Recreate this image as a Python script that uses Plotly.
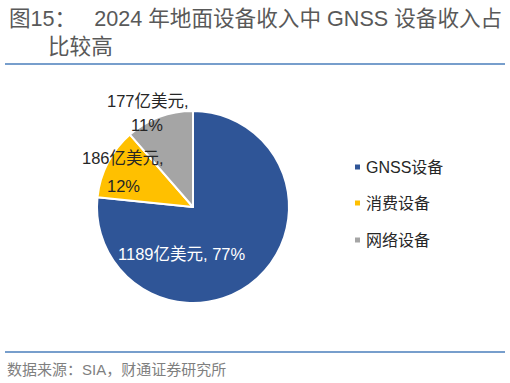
import plotly.graph_objects as go

# ---- data ----
categories = ["GNSS设备", "消费设备", "网络设备"]
values = [1189, 186, 177]
unit = "亿美元"
colors = ["#2F5597", "#FFC000", "#A5A5A5"]
title_line1 = "图15：\u00a0\u00a0\u00a02024 年地面设备收入中 GNSS 设备收入占"
title_line2 = "比较高"
source_text = "数据来源：SIA，财通证券研究所"

W, H = 510, 383
FONT = "Liberation Sans, Arial, Noto Sans CJK SC, sans-serif"


def px(x):
    return x / W


def py(y):
    return 1 - y / H


cx, cy, r = 193, 207, 96

fig = go.Figure()
fig.add_trace(go.Pie(
    labels=categories,
    values=values,
    sort=False,
    direction="clockwise",
    rotation=0,
    marker=dict(colors=colors, line=dict(color="white", width=2)),
    textinfo="none",
    hoverinfo="label+value+percent",
    showlegend=False,
    domain=dict(x=[px(cx - r), px(cx + r)], y=[py(cy + r), py(cy - r)]),
))

total = sum(values)
pcts = [round(v / total * 100) for v in values]

annotations = []
shapes = []

# pie labels (text from data)
label_lines = [
    (0, [(f"{values[0]}{unit}, {pcts[0]}%", 182, 254)], "white"),
    (1, [(f"{values[1]}{unit},", 123, 158), (f"{pcts[1]}%", 123, 186)], "#262626"),
    (2, [(f"{values[2]}{unit},", 148, 101), (f"{pcts[2]}%", 147, 125)], "#262626"),
]
for idx, lines, col in label_lines:
    for t, x, y in lines:
        annotations.append(dict(
            text=t, x=px(x), y=py(y), xref="paper", yref="paper",
            xanchor="center", yanchor="middle", showarrow=False,
            font=dict(family=FONT, size=16.5, color=col),
        ))

# legend (squares + text)
leg_y = [167, 203, 240]
for cat, col, y in zip(categories, colors, leg_y):
    shapes.append(dict(
        type="rect", xref="paper", yref="paper",
        x0=px(355), x1=px(360), y0=py(y + 2.5), y1=py(y - 2.5),
        fillcolor=col, line=dict(width=0),
    ))
    annotations.append(dict(
        text=cat, x=px(364), y=py(y), xref="paper", yref="paper",
        xanchor="left", yanchor="middle", showarrow=False,
        font=dict(family=FONT, size=16, color="#262626"),
    ))

# title
annotations.append(dict(
    text=title_line1, x=px(7), y=py(18), xref="paper", yref="paper",
    xanchor="left", yanchor="middle", showarrow=False,
    font=dict(family=FONT, size=21.6, color="#595959"),
))
annotations.append(dict(
    text=title_line2, x=px(46), y=py(46), xref="paper", yref="paper",
    xanchor="left", yanchor="middle", showarrow=False,
    font=dict(family=FONT, size=21.6, color="#595959"),
))
# source
annotations.append(dict(
    text=source_text, x=px(5), y=py(369), xref="paper", yref="paper",
    xanchor="left", yanchor="middle", showarrow=False,
    font=dict(family=FONT, size=15, color="#7F7F7F"),
))

# rules
for y in (64, 352):
    shapes.append(dict(
        type="line", xref="paper", yref="paper",
        x0=px(5), x1=px(505), y0=py(y), y1=py(y),
        line=dict(color="#4A7EBB", width=1.5),
    ))

fig.update_layout(
    width=W, height=H,
    margin=dict(l=0, r=0, t=0, b=0),
    paper_bgcolor="white", plot_bgcolor="white",
    annotations=annotations, shapes=shapes,
    showlegend=False,
    font=dict(family=FONT),
)

fig.write_html("out.html", config={"displayModeBar": False},
               post_script="document.body.style.margin='0';")
